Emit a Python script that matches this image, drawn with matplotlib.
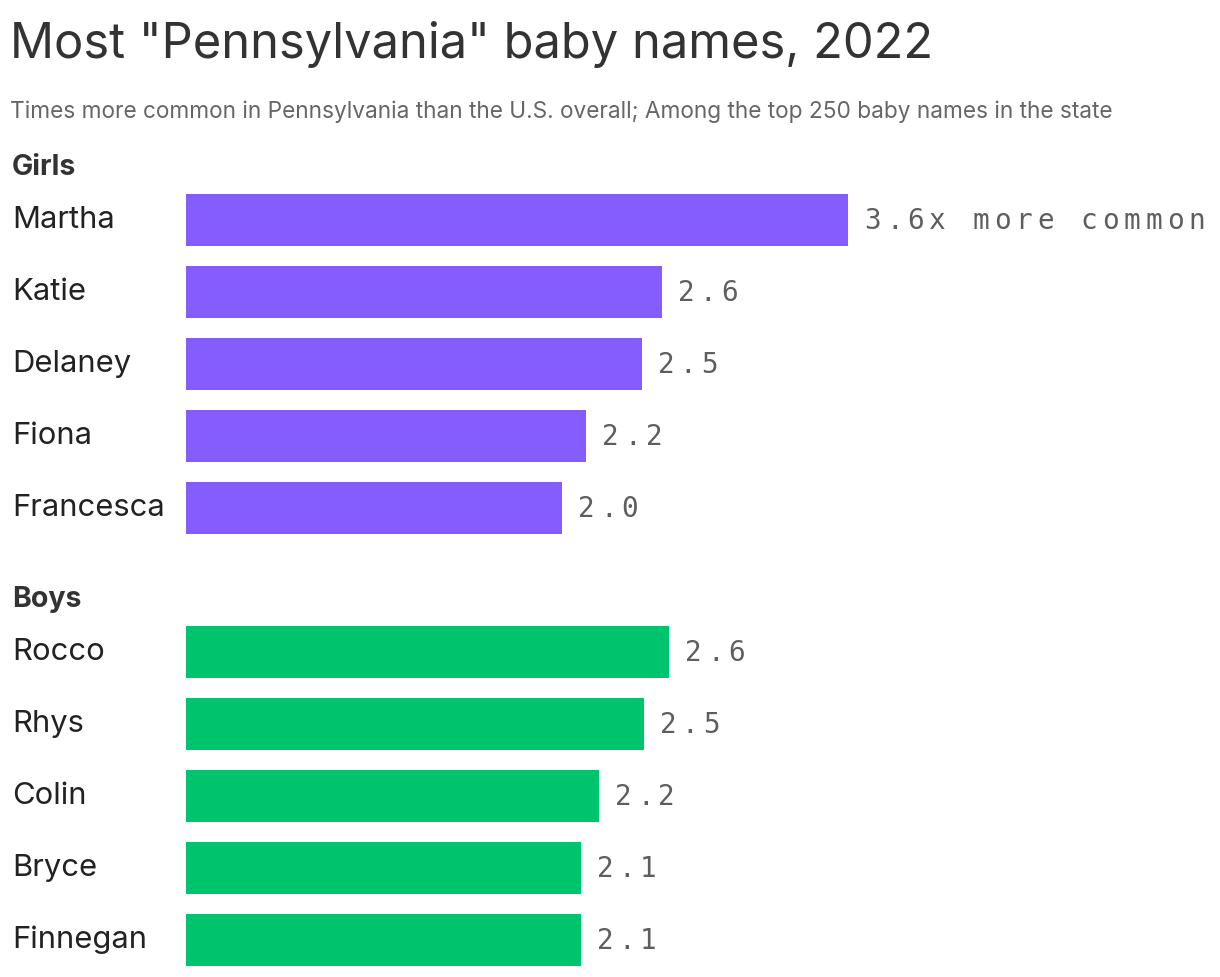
import matplotlib
matplotlib.use("Agg")
import matplotlib.pyplot as plt
import matplotlib.transforms as mtransforms

# ── Data ──────────────────────────────────────────────────────────────────────
girls_names = ["Martha", "Katie", "Delaney", "Fiona", "Francesca"]
girls_ratio = [3.59, 2.58, 2.47, 2.17, 2.04]
boys_names = ["Rocco", "Rhys", "Colin", "Bryce", "Finnegan"]
boys_ratio = [2.62, 2.48, 2.24, 2.14, 2.14]

TITLE = 'Most "Pennsylvania" baby names, 2022'
SUBTITLE = "Times more common in Pennsylvania than the U.S. overall; Among the top 250 baby names in the state"

PURPLE = "#855DFF"
GREEN = "#00C46D"
DARK = "#333333"
GREY = "#5E5E5E"

plt.rcParams["font.family"] = ["Inter", "DejaVu Sans"]

W, H, DPI = 1220, 978, 100
fig = plt.figure(figsize=(W / DPI, H / DPI), dpi=DPI)

# axes in pixel space: bars start at x=186, row 0 centre near y=220, 72 px pitch
px_per_unit = 184.5
x0 = 186
ax = fig.add_axes([x0 / W, 0, (W - x0) / W, 1])
ax.set_xlim(0, (W - x0) / px_per_unit)
row0, pitch = 221, 72
ax.set_ylim((H - row0) / pitch, (0 - row0) / pitch)
ax.axis("off")

name_tf = mtransforms.blended_transform_factory(fig.transFigure, ax.transData)


def value_label(x, y, s):
    # letter-spaced monospace label, drawn one char at a time
    adv = 21.6
    for i, ch in enumerate(s):
        ax.annotate(ch, (x, y), xytext=(16 + i * adv, 0), textcoords="offset pixels",
                    ha="left", va="center", fontsize=20, color=GREY,
                    family="DejaVu Sans Mono")


groups = [("Girls", girls_names, girls_ratio, PURPLE, 0),
          ("Boys", boys_names, boys_ratio, GREEN, 6)]
for header, names, vals, col, start in groups:
    rows = [start + i for i in range(len(names))]
    ax.barh(rows, vals, height=52 / pitch, left=0, color=col)
    ax.text(12 / W, start - 0.74, header, transform=name_tf, ha="left", va="center",
            fontsize=20.5, fontweight="bold", color=DARK)
    for i, (n, v, r) in enumerate(zip(names, vals, rows)):
        ax.text(12 / W, r - 0.02, n, transform=name_tf, ha="left", va="center",
                fontsize=22.3, color="#222222")
        lab = f"{v:.1f}x more common" if (start == 0 and i == 0) else f"{v:.1f}"
        value_label(v, r, lab)

fig.text(10 / W, 1 - 44 / H, TITLE, ha="left", va="center", fontsize=35.2, color=DARK)
fig.text(10 / W, 1 - 112 / H, SUBTITLE, ha="left", va="center", fontsize=16.3, color="#666666")

fig.savefig("out.png", dpi=DPI)
